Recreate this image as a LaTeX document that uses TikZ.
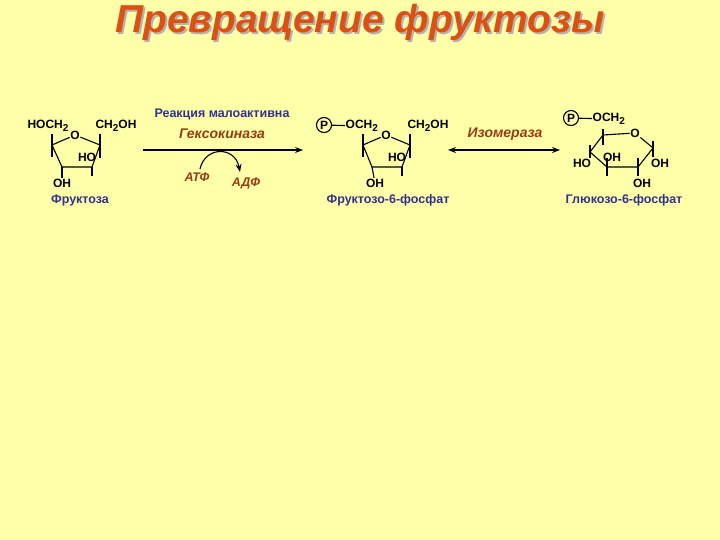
\documentclass[tikz,border=0pt]{standalone}
\usepackage{fontspec}
\setmainfont{Liberation Sans}
\usetikzlibrary{arrows.meta}
\definecolor{bg}{RGB}{255,255,170}
\definecolor{navy}{RGB}{50,50,140}
\definecolor{brn}{RGB}{150,60,20}
\definecolor{ttl}{RGB}{220,80,20}
\newcommand{\mysubtwo}{\raisebox{-2.5pt}{\fontsize{10}{10}\selectfont 2}}
\begin{document}
\begin{tikzpicture}[x=1pt,y=-1pt,
  chem/.style={font=\fontsize{12}{12}\selectfont\bfseries,inner sep=0.5pt},
  lbl/.style={font=\fontsize{12.5}{12.5}\selectfont\bfseries,text=navy},
  enz/.style={font=\fontsize{14}{14}\selectfont\bfseries\itshape,text=brn},
  bond/.style={line width=1.1pt},
  rx/.style={line width=1.1pt,-{Stealth[length=8pt,width=6pt]}}]
\fill[bg] (0,0) rectangle (720,540);
\useasboundingbox (0,0) rectangle (720,540);
\node[font=\fontsize{39}{39}\selectfont\bfseries\itshape,text=gray!60] at (362,24) {Превращение фруктозы};
\node[font=\fontsize{39}{39}\selectfont\bfseries\itshape,text=ttl] (title) at (360,22) {Превращение фруктозы};
% fructose
\node[chem] (h1) at (48,126) {HOCH\mysubtwo};
\node[chem] (c1) at (116,126) {CH\mysubtwo OH};
\node[chem] (o1) at (75,135) {O};
\node[chem] (ho1) at (87,157) {HO};
\node[chem] (oh1) at (62,183) {OH};
\coordinate (a1) at (52,145); \coordinate (b1) at (100,145);
\coordinate (d1) at (92,167); \coordinate (e1) at (62,167);
\draw[bond] (o1) -- (a1) -- (e1) -- (d1) -- (b1) -- (o1);
\draw[bond] (52,134) -- (52,157); \draw[bond] (100,134) -- (100,158);
\draw[bond] (e1) -- (oh1); \draw[bond] (d1) -- (92,176);
\node[lbl] (f1) at (80,200) {Фруктоза};
% arrow 1
\coordinate (s1) at (143,150); \coordinate (t1) at (303,150);
\draw[rx] (s1) -- (t1);
\node[lbl] (r1) at (222,114) {Реакция малоактивна};
\node[enz] (k1) at (222,134) {Гексокиназа};
\node[enz,font=\fontsize{12.5}{12.5}\selectfont\bfseries\itshape] (atf) at (197,177) {АТФ};
\node[enz,font=\fontsize{12.5}{12.5}\selectfont\bfseries\itshape] (adf) at (246,183) {АДФ};
\draw[rx] (200,169) .. controls (205,146) and (235,146) .. (240,172);
% F6P
\node[draw,circle,bond,chem,minimum size=15pt] (p1) at (324,125) {P};
\node[chem,anchor=west] (oc1) at (345,126) {OCH\mysubtwo};
\draw[bond] (p1) -- (oc1);
\node[chem] (c2) at (428,126) {CH\mysubtwo OH};
\node[chem] (o2) at (386,135) {O};
\node[chem] (ho2) at (397,157) {HO};
\node[chem] (oh2) at (375,183) {OH};
\coordinate (a2) at (363,145); \coordinate (b2) at (410,145);
\coordinate (d2) at (402,167); \coordinate (e2) at (372,167);
\draw[bond] (o2) -- (a2) -- (e2) -- (d2) -- (b2) -- (o2);
\draw[bond] (363,134) -- (363,157); \draw[bond] (410,134) -- (410,158);
\draw[bond] (e2) -- (oh2); \draw[bond] (d2) -- (402,176);
\node[lbl] (f2) at (388,200) {Фруктозо-6-фосфат};
% isomerase
\draw[line width=1.1pt,{Stealth[length=8pt,width=6pt]}-{Stealth[length=8pt,width=6pt]}] (448,150) -- (560,150);
\node[enz] (iz) at (505,134) {Изомераза};
% G6P
\node[draw,circle,bond,chem,minimum size=15pt] (p2) at (571,118) {P};
\node[chem,anchor=west] (oc2) at (592,119) {OCH\mysubtwo};
\draw[bond] (p2) -- (oc2);
\node[chem] (o3) at (635,133) {O};
\coordinate (a3) at (603,135); \coordinate (b3) at (653,148);
\coordinate (d3) at (638,167); \coordinate (e3) at (607,167);
\coordinate (g3) at (590,152);
\draw[bond] (o3) -- (a3) -- (g3) -- (e3) -- (d3) -- (b3) -- (o3);
\draw[bond] (603,129) -- (603,145);
\draw[bond] (590,145) -- (590,158);
\draw[bond] (607,158) -- (607,176);
\draw[bond] (638,158) -- (638,176);
\draw[bond] (653,141) -- (653,157);
\node[chem] (ho3) at (582,163) {HO};
\node[chem] (oh3) at (612,157) {OH};
\node[chem] (oh4) at (660,163) {OH};
\node[chem] (oh5) at (642,183) {OH};
\node[lbl] (f3) at (624,200) {Глюкозо-6-фосфат};
\end{tikzpicture}
\end{document}
